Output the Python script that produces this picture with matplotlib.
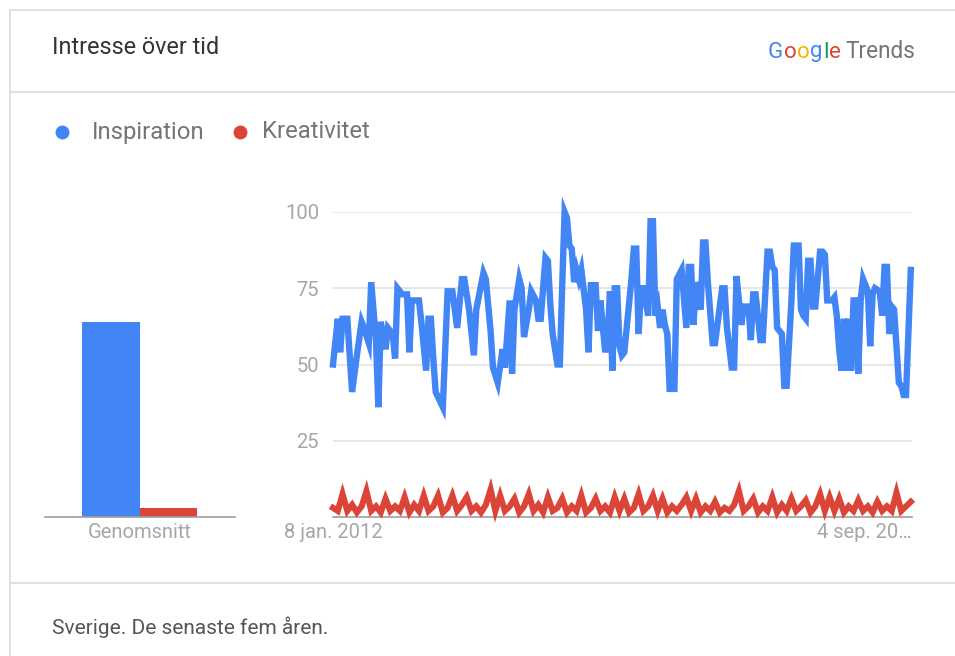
import numpy as np
import matplotlib.pyplot as plt
from matplotlib.lines import Line2D

plt.rcParams["font.family"] = ["Roboto", "DejaVu Sans"]

# Inspiration: week index from 8 jan. 2012, value (0-100)
insp_weeks = [0, 2, 3, 4, 6, 8, 10, 12, 13, 15, 16, 18, 19, 20, 22, 23, 25, 26, 27, 29,
              31, 32, 33, 36, 37, 39, 40, 41, 42, 43, 46, 48, 50, 52, 54, 55, 57, 59, 60, 63,
              64, 66, 67, 69, 71, 72, 74, 75, 76, 78, 79, 80, 82, 83, 85, 86, 87, 89, 90, 91,
              92, 94, 95, 96, 97, 98, 99, 100, 101, 102, 103, 104, 106, 107, 108, 110, 111, 112, 114, 115,
              116, 117, 118, 119, 120, 121, 122, 125, 126, 127, 128, 129, 130, 132, 133, 134, 135, 136, 137, 138,
              139, 140, 141, 143, 144, 146, 148, 149, 150, 151, 152, 154, 155, 156, 157, 159, 160, 162, 163, 164,
              165, 167, 168, 169, 171, 172, 174, 175, 176, 177, 179, 180, 182, 183, 184, 185, 186, 188, 189, 190,
              191, 192, 193, 195, 196, 197, 198, 199, 200, 201, 202, 204, 205, 206, 207, 209, 210, 211, 212, 213,
              214, 215, 216, 217, 218, 219, 220, 221, 222, 223, 224, 225, 226, 227, 229, 230, 231, 232, 233, 234,
              235, 237, 238, 239, 240, 242]
insp_values = [50, 65, 54, 65, 65, 41, 53, 64, 62, 57, 77, 58, 36, 64, 55, 62, 60, 52, 75, 73,
               73, 54, 71, 71, 64, 48, 65, 65, 52, 41, 36, 74, 74, 62, 78, 78, 68, 53, 68, 80,
               78, 61, 49, 44, 55, 49, 71, 47, 68, 78, 75, 59, 68, 74, 71, 65, 65, 85, 84, 70,
               60, 50, 50, 76, 100, 98, 89, 88, 77, 81, 78, 81, 68, 54, 76, 76, 61, 71, 54, 58,
               74, 48, 75, 75, 56, 53, 54, 78, 88, 88, 60, 75, 75, 66, 97, 97, 66, 69, 62, 68,
               63, 60, 42, 42, 78, 81, 62, 82, 82, 63, 77, 68, 90, 90, 77, 57, 57, 69, 75, 75,
               62, 49, 49, 79, 63, 69, 69, 58, 73, 73, 58, 58, 87, 87, 82, 81, 62, 60, 43, 43,
               57, 71, 89, 89, 68, 66, 65, 84, 84, 69, 69, 87, 87, 86, 71, 71, 72, 66, 55, 48,
               65, 48, 65, 48, 71, 71, 47, 71, 78, 76, 74, 56, 73, 75, 74, 66, 82, 82, 60, 69,
               68, 44, 43, 40, 40, 81]

# Kreativitet: every second week from 8 jan. 2012
krea_values = [3, 2, 7.5, 2, 4, 1.5, 3.5, 8.5, 2, 3.5, 1.5, 6, 2, 3.5, 2, 6.5, 1.5, 4, 2, 7,
               2, 3.5, 7, 1.5, 3, 7, 2, 4, 6.5, 2, 3.5, 1.5, 4, 9, 2, 7, 2, 3.5, 6, 1.5,
               3.5, 7.5, 2, 4, 1.5, 6.5, 2, 3, 6, 1.5, 3.5, 2, 7, 1.5, 3, 6, 2, 3.5, 1.5, 6.5,
               2, 6, 1.5, 3, 7.5, 2, 3.5, 7, 2, 6, 1.5, 3.5, 2, 4, 6.5, 2, 6, 1.5, 3.5, 2,
               5, 1.5, 3, 2, 4, 8.5, 2, 3.5, 6, 1.5, 3.5, 2, 6.5, 1.5, 4, 2, 6, 2, 3.5, 5.5,
               1.5, 3.5, 7.5, 2, 6.5, 2, 6, 1.5, 3.5, 2, 5.5, 2, 3.5, 1.5, 5, 2, 3.5, 2, 8, 2,
               3.5, 5]
krea_weeks = np.arange(len(krea_values)) * 2

avg_names = ["Inspiration", "Kreativitet"]
avg_values = [64, 3]
y_ticks = [25, 50, 75, 100]
date_labels = ["8 jan. 2012", "4 sep. 20\u2026"]

BLUE = "#4285f4"
RED = "#db4437"
GRID = "#e3e3e3"
AXIS = "#9e9e9e"
TICK = "#a6a6a6"
W, H = 955, 656


def fx(px):
    return px / W


def fy(py):
    return 1 - py / H


fig = plt.figure(figsize=(W / 100, H / 100), dpi=100)
fig.patch.set_facecolor("white")

# card frame and separators
for y in [10, 92, 583]:
    fig.add_artist(Line2D([fx(10), 1], [fy(y), fy(y)], color="#dadada", lw=1.2))
fig.add_artist(Line2D([fx(10), fx(10)], [fy(10), 0], color="#dadada", lw=1.2))

fig.text(fx(52), fy(48), "Intresse över tid", fontsize=16.8, color="#333333", va="center")
fig.text(fx(52), fy(627), "Sverige. De senaste fem åren.", fontsize=15, color="#555555", va="center")

# Google Trends logo text
renderer = fig.canvas.get_renderer()
x = 768
for ch, col in zip("Google", [BLUE, RED, "#f4b400", BLUE, "#0f9d58", RED]):
    t = fig.text(fx(x), fy(52), ch, fontsize=16, color=col, va="center")
    x += t.get_window_extent(renderer).width + 0.5
fig.text(fx(x + 4), fy(52), "Trends", fontsize=16.3, color="#757575", va="center")

# legend
for (name, col), (mx, tx) in zip(zip(avg_names, [BLUE, RED]), [(62, 92), (240, 262)]):
    fig.add_artist(Line2D([fx(mx)], [fy(132)], marker="o", markersize=10,
                          color=col, markeredgewidth=0))
    fig.text(fx(tx), fy(132), name, fontsize=17.2, color="#757575", va="center")

# average bars
axb = fig.add_axes([fx(45), fy(517), fx(190), (517 - 212) / H])
axb.bar([0, 1], avg_values, width=1.0, color=[BLUE, RED])
axb.set_ylim(0, 100)
axb.set_xlim(-1.148, 2.156)
axb.set_xticks([0.5])
axb.set_xticklabels(["Genomsnitt"], fontsize=14.5, color=TICK)
axb.tick_params(axis="x", length=0, pad=4)
axb.set_yticks([])
for s in ["top", "right", "left"]:
    axb.spines[s].set_visible(False)
axb.spines["bottom"].set_color(AXIS)
axb.spines["bottom"].set_linewidth(1.2)

# time series
ax = fig.add_axes([fx(333), fy(517), fx(579), (517 - 212) / H])
ax.plot(insp_weeks, insp_values, color=BLUE, lw=4.6, clip_on=False, solid_joinstyle="miter", zorder=3)
ax.plot(krea_weeks, krea_values, color=RED, lw=4.4, clip_on=False, solid_joinstyle="miter", zorder=3)
ax.set_ylim(0, 100)
ax.set_xlim(0, 242.5)
ax.set_yticks(y_ticks)
ax.set_yticklabels([str(v) for v in y_ticks], fontsize=14.5, color=TICK)
ax.tick_params(axis="y", length=0, pad=10)
ax.grid(axis="y", color=GRID, lw=1.2)
ax.set_xticks([0, 242.5])
ax.set_xticklabels(date_labels, fontsize=14.5, color=TICK)
ax.tick_params(axis="x", length=0, pad=4)
lbls = ax.get_xticklabels()
lbls[0].set_ha("center")
lbls[1].set_ha("right")
for s in ["top", "right", "left"]:
    ax.spines[s].set_visible(False)
ax.spines["bottom"].set_color(AXIS)
ax.spines["bottom"].set_linewidth(1.2)

fig.savefig("out.png", dpi=100, facecolor="white")
